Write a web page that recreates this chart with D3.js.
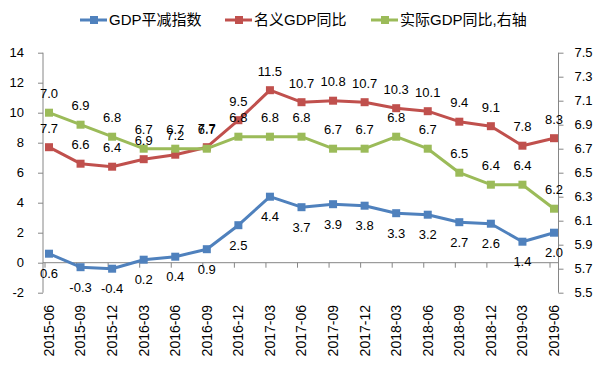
<!DOCTYPE html>
<html lang="zh">
<head>
<meta charset="UTF-8"/>
<title>GDP平减指数</title>
<script src="https://d3js.org/d3.v7.min.js"></script>
<style>
  body { margin: 0; background: #fff; }
  text { font-family: "Liberation Sans", "Noto Sans CJK SC", sans-serif; fill: #000; }
</style>
</head>
<body>
<script>
    var categories = ["2015-06","2015-09","2015-12","2016-03","2016-06","2016-09","2016-12",
                      "2017-03","2017-06","2017-09","2017-12","2018-03","2018-06","2018-09",
                      "2018-12","2019-03","2019-06"];
    var deflator = [0.6,-0.3,-0.4,0.2,0.4,0.9,2.5,4.4,3.7,3.9,3.8,3.3,3.2,2.7,2.6,1.4,2.0];
    var nominal  = [7.7,6.6,6.4,6.9,7.2,7.7,9.5,11.5,10.7,10.8,10.7,10.3,10.1,9.4,9.1,7.8,8.3];
    var real     = [7.0,6.9,6.8,6.7,6.7,6.7,6.8,6.8,6.8,6.7,6.7,6.8,6.7,6.5,6.4,6.4,6.2];
    var leftTicks  = [-2,0,2,4,6,8,10,12,14];
    var rightTicks = [5.5,5.7,5.9,6.1,6.3,6.5,6.7,6.9,7.1,7.3,7.5];
    var seriesNames = ["GDP平减指数","名义GDP同比","实际GDP同比,右轴"];

    var w = 603, h = 367;
    var axisColor = "#868686";

    // Excel style: plain hyphen for negatives
    var fmt1 = function(d) { return d.toFixed(1); };
    var fmt0 = function(d) { return String(d); };

    var svg = d3.select("body").append("svg")
                .attr("width", w).attr("height", h);

    // points sit a little inside the two value axes, like the Excel original
    var xScale = d3.scalePoint()
                   .domain(d3.range(categories.length))
                   .range([49, 554]);

    var yLeft = d3.scaleLinear().domain([-2, 14]).range([292.7, 52.7]);
    var yRight = d3.scaleLinear().domain([5.5, 7.5]).range([292.7, 52.7]);

    // left axis
    var gl = svg.append("g")
       .attr("transform", "translate(43,0)")
       .call(d3.axisLeft(yLeft).tickValues(leftTicks).tickSize(5).tickPadding(14)
               .tickFormat(fmt0));
    // right axis
    var gr = svg.append("g")
       .attr("transform", "translate(558.5,0)")
       .call(d3.axisRight(yRight).tickValues(rightTicks).tickSize(5).tickPadding(11)
               .tickFormat(fmt1));

    // category ticks along the zero line
    var gx = svg.append("g")
       .attr("transform", "translate(-4.5," + yLeft(0) + ")")
       .call(d3.axisBottom(xScale).tickSize(5).tickFormat(""));
    gx.select(".domain").remove();
    gx.selectAll("line").attr("stroke", axisColor);
    svg.append("line")
       .attr("x1", 43).attr("x2", 558.5)
       .attr("y1", yLeft(0)).attr("y2", yLeft(0))
       .attr("stroke", axisColor);

    // category labels
    svg.append("g").selectAll("text")
       .data(categories)
       .enter().append("text")
       .attr("transform", function(d, i) {
           return "translate(" + xScale(i) + ",305) rotate(-90)";
       })
       .attr("text-anchor", "end")
       .attr("dy", "0.35em")
       .style("font-size", "14px")
       .text(function(d) { return d; });

    [gl, gr].forEach(function(g) {
        g.selectAll("path, line").attr("stroke", axisColor);
        g.select(".domain").attr("d", "M0,52.7V292.7");
        g.selectAll("text").style("font-size", "13px").attr("fill", "#000");
    });

    var series = [
        { values: deflator, y: yLeft,  color: "#4F81BD", dy: 20 },
        { values: nominal,  y: yLeft,  color: "#C0504D", dy: -19 },
        { values: real,     y: yRight, color: "#9BBB59", dy: -19 }
    ];

    series.forEach(function(s) {
        var line = d3.line()
                     .x(function(d, i) { return xScale(i); })
                     .y(function(d) { return s.y(d); });
        svg.append("path")
           .datum(s.values)
           .attr("d", line)
           .attr("fill", "none")
           .attr("stroke", s.color)
           .attr("stroke-width", 3)
           .attr("stroke-linejoin", "round");
        svg.append("g").selectAll("rect")
           .data(s.values)
           .enter().append("rect")
           .attr("x", function(d, i) { return xScale(i) - 4; })
           .attr("y", function(d) { return s.y(d) - 4; })
           .attr("width", 8).attr("height", 8)
           .attr("fill", s.color);
    });

    // data labels drawn after all lines
    series.forEach(function(s) {
        svg.append("g").selectAll("text")
           .data(s.values)
           .enter().append("text")
           .attr("x", function(d, i) { return xScale(i); })
           .attr("y", function(d) { return s.y(d) + s.dy; })
           .attr("dy", "0.35em")
           .attr("text-anchor", "middle")
           .style("font-size", "13px")
           .text(function(d) { return fmt1(d); });
    });

    // legend
    var legendX = [80, 225, 371];
    var legend = svg.append("g").selectAll("g")
       .data(series)
       .enter().append("g")
       .attr("transform", function(d, i) { return "translate(" + legendX[i] + ",20)"; });
    legend.append("line")
       .attr("x1", 0).attr("x2", 27)
       .attr("stroke", function(d) { return d.color; })
       .attr("stroke-width", 3);
    legend.append("rect")
       .attr("x", 10).attr("y", -4).attr("width", 8).attr("height", 8)
       .attr("fill", function(d) { return d.color; });
    legend.append("text")
       .attr("x", 29)
       .attr("dy", "0.35em")
       .style("font-size", "15px")
       .text(function(d, i) { return seriesNames[i]; });
</script>
</body>
</html>
